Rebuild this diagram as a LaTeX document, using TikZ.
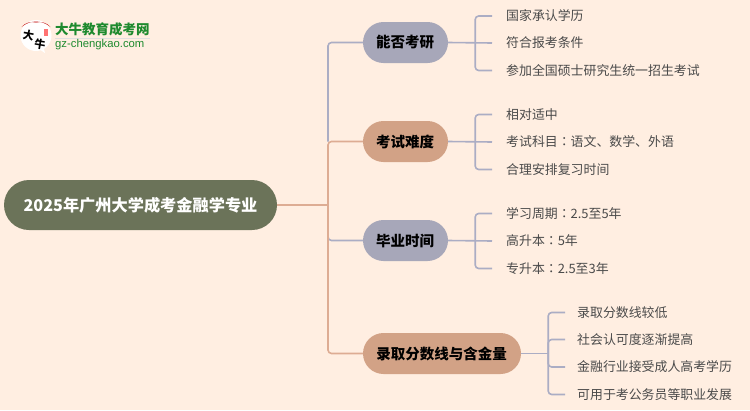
\documentclass[tikz,border=0pt]{standalone}
\usepackage{fontspec}
\setmainfont{Noto Sans CJK SC}
\newfontfamily\latinf{Liberation Sans}
\newfontfamily\tcf{Noto Sans CJK TC}
\newcommand{\cln}{{\tcf ：}}
\definecolor{bgc}{HTML}{FFEEE1}
\definecolor{rootc}{HTML}{6B7359}
\definecolor{bluec}{HTML}{A7A7B9}
\definecolor{tanc}{HTML}{D2A286}
\definecolor{linkb}{HTML}{ABADC4}
\definecolor{linko}{HTML}{DDAC93}
\definecolor{leaft}{HTML}{4A4A4A}
\definecolor{logog}{HTML}{1E8A2E}
\tikzset{
 rootbox/.style={rounded corners=25pt,fill=rootc,text=white,minimum width=273pt,minimum height=50pt,inner sep=0pt,font=\fontsize{16.2}{16}\selectfont\bfseries},
 branch/.style={rounded corners=20.5pt,minimum height=41pt,inner sep=0pt,text=black,font=\fontsize{14.5}{15}\selectfont\bfseries},
 leafnode/.style={anchor=west,inner sep=0pt,text=leaft,font=\fontsize{12.9}{14}\selectfont},
 linkline/.style={line width=1.6pt,rounded corners=3.5pt},
}
\begin{document}
\begin{tikzpicture}[x=1pt,y=-1pt]
\path[use as bounding box,fill=bgc] (0,0) rectangle (750,410);
% logo
\fill[white] (36,35.5) circle (15.5);
\fill[white] (36,47) -- (45,53) -- (43,45) -- cycle;
\fill[red!75!black] (21.5,27) to[bend left=40] (50.5,27) to[bend right=30] (36,22.5) to[bend right=30] cycle;
\fill[red!55!white] (43.5,29) rectangle (47.5,36);
\node[rotate=-10,inner sep=0pt,text=black,font=\fontsize{11}{11}\selectfont\bfseries] (l1) at (28.5,35.5) {大};
\node[rotate=-10,inner sep=0pt,text=black,font=\fontsize{11}{11}\selectfont\bfseries] (l2) at (40,44) {牛};
\node[anchor=west,inner sep=0pt,text=logog,font=\fontsize{13.5}{14}\selectfont\bfseries] (l3) at (55,29.5) {大牛教育成考网};
\draw[black!12,line width=.7pt] (55,38.5) -- (150,38.5);
\node[anchor=west,inner sep=0pt,text=logog,font=\latinf\fontsize{11.3}{12}\selectfont] (l4) at (55,45) {gz-chengkao.com};
% nodes
\node[rootbox] (root) at (140.5,205) {2025年广州大学成考金融学专业};
\node[branch,fill=bluec,minimum width=85pt] (b1) at (405.5,42.5) {\kern-1pt 能否考研};
\node[branch,fill=tanc,minimum width=85pt] (b2) at (405.5,141.5) {\kern-1pt 考试难度};
\node[branch,fill=bluec,minimum width=85pt] (b3) at (405.5,240.5) {\kern-1pt 毕业时间};
\node[branch,fill=tanc,minimum width=158pt] (b4) at (442,353.5) {\kern-1pt 录取分数线与含金量};
\node[leafnode] (a1) at (506,16) {国家承认学历};
\node[leafnode] (a2) at (506,43) {符合报考条件};
\node[leafnode] (a3) at (506,70.5) {参加全国硕士研究生统一招生考试};
\node[leafnode] (c1) at (506,114.5) {相对适中};
\node[leafnode] (c2) at (506,142) {考试科目\cln 语文、数学、外语};
\node[leafnode] (c3) at (506,169.5) {合理安排复习时间};
\node[leafnode] (d1) at (506,213.5) {学习周期\cln 2.5至5年};
\node[leafnode] (d2) at (506,241) {高升本\cln 5年};
\node[leafnode] (d3) at (506,268.5) {专升本\cln 2.5至3年};
\node[leafnode] (e1) at (577,312.5) {录取分数线较低};
\node[leafnode] (e2) at (577,339.5) {社会认可度逐渐提高};
\node[leafnode] (e3) at (577,367) {金融行业接受成人高考学历};
\node[leafnode] (e4) at (577,394.5) {可用于考公务员等职业发展};
% trunk
\draw[linkline,linkb] (b1.west) -| (328,141.5);
\draw[linkline,linkb] (b3.west) -| (328,205);
\draw[linkline,linko] (b2.west) -| (328,205);
\draw[linkline,linko] (b4.west) -| (328,205);
\draw[linkline,linko] (root.east) -- (328,205);
% brackets
\foreach \b/\ta/\tb/\tc in {b1/a1/a2/a3,b2/c1/c2/c3,b3/d1/d2/d3}{
 \coordinate (t) at ([xshift=-14pt]\ta.west);
 \coordinate (m) at ([xshift=-14pt]\tb.west);
 \coordinate (n) at ([xshift=-14pt]\tc.west);
 \draw[linkline,linkb] (t) -| ([xshift=27pt]\b.east) |- (n);
 \draw[linkline,linkb] (\b.east) -- (m);
}
\coordinate (e1c) at ([xshift=-12pt]e1.west);
\coordinate (e2c) at ([xshift=-12pt]e2.west);
\coordinate (e3c) at ([xshift=-12pt]e3.west);
\coordinate (e4c) at ([xshift=-12pt]e4.west);
\draw[linkline,linkb] (e1c) -| ([xshift=27pt]b4.east) |- (e4c);
\draw[linkline,linkb] (e2c) -| ([xshift=27pt]b4.east);
\draw[linkline,linkb] (e3c) -| ([xshift=27pt]b4.east);
\draw[linkline,linkb] (b4.east) -- ([xshift=27pt]b4.east);
\end{tikzpicture}
\end{document}
